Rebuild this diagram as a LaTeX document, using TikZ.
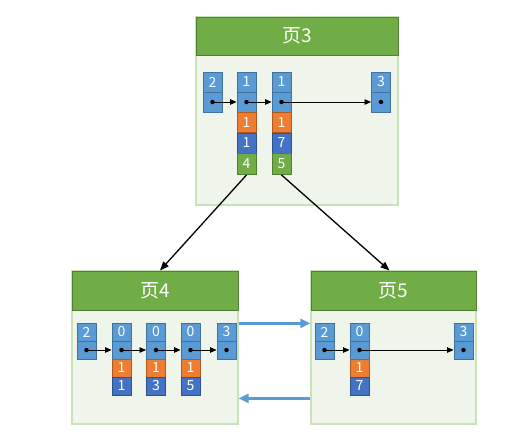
\documentclass[tikz,border=0pt]{standalone}
\usepackage{fontspec}
\setmainfont{Noto Sans CJK SC}
\usetikzlibrary{arrows.meta,calc}
\definecolor{hdrfill}{HTML}{70AD47}
\definecolor{hdrline}{HTML}{507E32}
\definecolor{pagebg}{HTML}{F0F5EB}
\definecolor{pageline}{HTML}{C9E2B8}
\definecolor{keyblue}{HTML}{5B9BD5}
\definecolor{keyblueline}{HTML}{41719C}
\definecolor{keyorange}{HTML}{ED7D31}
\definecolor{keyorangeline}{HTML}{AE5A21}
\definecolor{keydark}{HTML}{4472C4}
\definecolor{keydarkline}{HTML}{2F528F}
\definecolor{linkblue}{HTML}{5B9BD5}
\tikzset{
  pagebody/.style={draw=pageline, fill=pagebg, line width=1.2pt, inner sep=0pt},
  pagehead/.style={draw=hdrline, fill=hdrfill, line width=1pt, inner sep=0pt,
    text=white, font=\fontsize{19}{19}\selectfont},
  cellbase/.style={minimum width=19pt, minimum height=20pt, inner sep=0pt,
    line width=0.9pt, text=white, font=\fontsize{14}{14}\selectfont},
  bluecell/.style={cellbase, draw=keyblueline, fill=keyblue},
  orangecell/.style={cellbase, draw=keyorangeline, fill=keyorange},
  darkcell/.style={cellbase, draw=keydarkline, fill=keydark},
  greencell/.style={cellbase, draw=hdrline, fill=hdrfill, minimum height=21pt},
  small/.style={minimum height=18pt},
  nextptr/.style={-{Triangle[length=6.5pt,width=5.5pt]}, line width=0.8pt, black},
  childptr/.style={-{Triangle[length=9pt,width=7pt]}, line width=1.3pt, black},
  siblink/.style={-{Triangle[length=10pt,width=9pt]}, line width=2.3pt, linkblue},
  dot/.style={circle, fill=black, inner sep=0pt, minimum size=4.5pt}
}
\begin{document}
\begin{tikzpicture}[x=1pt,y=-1pt]
\useasboundingbox (0,0) rectangle (526,439);

% ---- pages ----
\node[pagebody, minimum width=202pt, minimum height=188pt] (p3) at (297,111) {};
\node[pagehead, minimum width=202pt, minimum height=38pt] (p3h) at (297,36) {页3};
\node[pagebody, minimum width=166pt, minimum height=153pt] (p4) at (155,347.5) {};
\node[pagehead, minimum width=166pt, minimum height=39pt] (p4h) at (155,290.5) {页4};
\node[pagebody, minimum width=165pt, minimum height=153pt] (p5) at (393.5,347.5) {};
\node[pagehead, minimum width=165pt, minimum height=39pt] (p5h) at (393.5,290.5) {页5};

% ---- page 3 records ----
\node[bluecell] (a1) at (212.5,82) {2};
\node[bluecell] (a2) at (212.5,102) {};
\node[bluecell] (b1) at (246.5,82) {1};
\node[bluecell] (b2) at (246.5,102) {};
\node[orangecell] (b3) at (246.5,122.5) {1};
\node[darkcell] (b4) at (246.5,143) {1};
\node[greencell] (b5) at (246.5,164) {4};
\node[bluecell] (c1) at (281.5,82) {1};
\node[bluecell] (c2) at (281.5,102) {};
\node[orangecell] (c3) at (281.5,122.5) {1};
\node[darkcell] (c4) at (281.5,143) {7};
\node[greencell] (c5) at (281.5,164) {5};
\node[bluecell] (d1) at (381,82) {3};
\node[bluecell] (d2) at (381,102) {};

% ---- page 4 records ----
\node[bluecell, small] (e1) at (86.5,332) {2};
\node[bluecell, small] (e2) at (86.5,350) {};
\node[bluecell, small] (f1) at (121.5,332) {0};
\node[bluecell, small] (f2) at (121.5,350) {};
\node[orangecell, small] (f3) at (121.5,368) {1};
\node[darkcell, small] (f4) at (121.5,386) {1};
\node[bluecell, small] (g1) at (156,332) {0};
\node[bluecell, small] (g2) at (156,350) {};
\node[orangecell, small] (g3) at (156,368) {1};
\node[darkcell, small] (g4) at (156,386) {3};
\node[bluecell, small] (h1) at (190.5,332) {0};
\node[bluecell, small] (h2) at (190.5,350) {};
\node[orangecell, small] (h3) at (190.5,368) {1};
\node[darkcell, small] (h4) at (190.5,386) {5};
\node[bluecell, small] (i1) at (226.5,332) {3};
\node[bluecell, small] (i2) at (226.5,350) {};

% ---- page 5 records ----
\node[bluecell, small] (j1) at (324.5,332) {2};
\node[bluecell, small] (j2) at (324.5,350) {};
\node[bluecell, small] (k1) at (359.5,332) {0};
\node[bluecell, small] (k2) at (359.5,350) {};
\node[orangecell, small] (k3) at (359.5,368) {1};
\node[darkcell, small] (k4) at (359.5,386) {7};
\node[bluecell, small] (l1) at (463.5,332) {3};
\node[bluecell, small] (l2) at (463.5,350) {};

% ---- next-record pointers ----
\foreach \s/\t in {a2/b2, b2/c2, c2/d2, e2/f2, f2/g2, g2/h2, h2/i2, j2/k2, k2/l2} {
  \draw[nextptr] (\s.center) -- (\t.west);
}
\foreach \s in {a2, b2, c2, d2, e2, f2, g2, h2, i2, j2, k2, l2} {
  \node[dot] at (\s.center) {};
}

% ---- child page pointers ----
\draw[childptr] (b5.south) -- ($(p4h.north)+(5,0)$);
\draw[childptr] (c5.south) -- ($(p5h.north)+(-4,0)$);

% ---- sibling page links ----
\draw[siblink] ([yshift=-53pt]p4.north east) -- ([yshift=-53pt]p5.north west);
\draw[siblink] ([yshift=-128pt]p5.north west) -- ([yshift=-128pt]p4.north east);
\end{tikzpicture}
\end{document}
